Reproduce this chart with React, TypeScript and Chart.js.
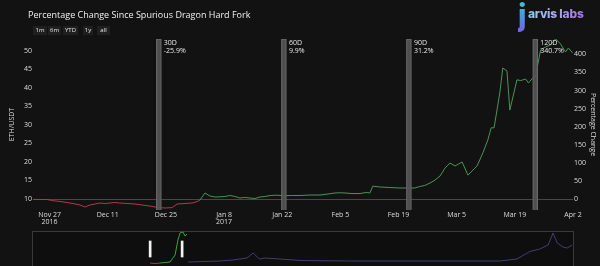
import React, { useEffect, useRef } from 'react';
import { Chart, registerables } from 'chart.js';
Chart.register(...registerables);

// ---------- data ----------
const BASE_PRICE = 9.82; // ETH/USDT at the Spurious Dragon fork (0 %)
// day offsets counted from Nov 27 2016
const days = [-4.0, -2.3, -0.6, 0.8, 2.5, 4.2, 5.6, 7.3, 8.5, 9.7, 10.9, 12.1, 13.3, 14.5, 15.7, 16.9, 18.6, 20.6, 22.2, 24.2, 26.1, 27.8, 29.5, 30.7, 32.6, 34.3, 35.5, 36.2, 37.4, 38.6, 39.8, 41.0, 42.2, 43.4, 44.6, 45.8, 47.0, 48.2, 49.4, 50.6, 51.9, 53.1, 54.7, 56.4, 58.3, 60.3, 62.7, 65.1, 67.0, 68.7, 69.9, 71.1, 72.8, 74.7, 76.2, 77.1, 77.8, 79.5, 81.9, 84.3, 86.5, 87.9, 89.1, 90.3, 91.6, 92.8, 94.0, 95.2, 96.4, 97.6, 99.3, 100.7, 101.7, 102.9, 104.3, 105.5, 106.3, 107.0, 107.7, 108.4, 109.1, 110.1, 110.8, 112.5, 113.4, 114.6, 115.3, 116.3, 117.0, 118.2, 119.4, 120.6, 121.8, 123.0, 124.2, 124.9, 125.9];
const prices = [9.80, 9.80, 9.78, 9.46, 9.25, 8.97, 8.70, 8.30, 7.75, 8.30, 8.56, 8.83, 8.70, 8.83, 8.97, 8.83, 8.70, 8.56, 8.30, 8.00, 7.60, 7.48, 7.60, 8.56, 8.70, 8.83, 9.24, 9.65, 11.55, 10.73, 10.46, 10.50, 10.60, 10.87, 10.60, 10.19, 10.33, 10.19, 10.05, 10.46, 10.60, 10.87, 10.95, 10.80, 10.87, 10.87, 11.00, 11.00, 11.27, 11.55, 11.60, 11.55, 11.40, 11.40, 11.68, 11.55, 13.40, 13.17, 13.03, 12.90, 12.88, 12.90, 13.30, 13.58, 14.25, 15.07, 16.15, 18.30, 19.67, 18.86, 19.95, 16.40, 17.50, 18.86, 22.40, 25.90, 29.20, 29.20, 34.00, 38.90, 45.40, 44.60, 34.00, 42.20, 42.00, 42.40, 41.35, 42.70, 43.28, 50.30, 51.10, 51.65, 53.30, 51.90, 49.75, 50.80, 49.50];

const tickDays = [0, 14, 28, 42, 56, 70, 84, 98, 112, 126];
const tickLabels: (string | string[])[] = [['Nov 27', '2016'], 'Dec 11', 'Dec 25', ['Jan 8', '2017'], 'Jan 22', 'Feb 5', 'Feb 19', 'Mar 5', 'Mar 19', 'Apr 2'];
const priceTicks = [10, 15, 20, 25, 30, 35, 40, 45, 50];
const pctTicks = [0, 50, 100, 150, 200, 250, 300, 350, 400];

const markerDays = [26.3, 56.4, 86.5, 116.9];
const markerNames = ['30D', '60D', '90D', '120D'];
const markerChanges = ['-25.9%', '9.9%', '31.2%', '340.7%'];

const X_MIN = -4;
const X_MAX = 126;
const PRICE_MIN = 6.94;
const PRICE_MAX = 53.25;

// range-slider preview (levels)
const miniRedDays = [24.2, 25.4, 26.6];
const miniRedLevels = [8, 7.5, 8];
const miniGreenDays = [26.6, 29.0, 30.2, 30.9, 31.4, 32.1, 32.6, 33.1];
const miniGreenLevels = [8, 9, 16, 31, 38, 39, 35, 37];
const miniPurpleDays = [33.3, 41.0, 44.1, 47.5, 49.0, 50.5, 51.9, 55.5, 60.3, 72.3, 84.3, 96.4, 108.4, 112.5, 115.6, 118.0, 120.0, 121.2, 122.2, 123.6, 124.6, 125.8];
const miniPurpleLevels = [9, 10, 11, 13, 18, 12, 13, 12, 10.5, 10, 10, 10, 10, 12, 19.5, 22, 26, 38, 28, 24, 23, 26];
const miniMarkerDays = [24.2, 31.9];
const MINI_MARKER_RANGE = [14, 30];

const rangeButtons = ['1m', '6m', 'YTD', '1y', 'all'];

// ---------- styles ----------
const BG = '#121212';
const RED = '#b23a48';
const GREEN = '#4a9459';
const FONT = '"Open Sans", "Noto Sans", sans-serif';

const toPct = (p: number) => (p / BASE_PRICE - 1) * 100;

const markerLabelPlugin = {
  id: 'markerLabels',
  afterDatasetsDraw(chart: any) {
    const { ctx, chartArea, scales } = chart;
    ctx.save();
    ctx.fillStyle = '#e6e6e6';
    ctx.font = `7px ${FONT}`;
    ctx.textBaseline = 'top';
    ctx.textAlign = 'left';
    markerDays.forEach((d, i) => {
      const x = scales.x.getPixelForValue(d) + 5;
      ctx.fillText(markerNames[i], x, chartArea.top + 0.5);
      ctx.fillText(markerChanges[i], x, chartArea.top + 8.5);
    });
    ctx.restore();
  },
};

export default function App() {
  const mainRef = useRef<HTMLCanvasElement>(null);
  const miniRef = useRef<HTMLCanvasElement>(null);

  useEffect(() => {
    const tickFont = { family: FONT, size: 7 };
    const main = new Chart(mainRef.current!, {
      type: 'line',
      data: {
        datasets: [
          {
            type: 'bar',
            data: markerDays.map((d) => ({ x: d, y: [PRICE_MIN, PRICE_MAX] })) as any,
            backgroundColor: 'rgba(85,85,85,0.92)',
            borderColor: '#6a6a6a',
            borderWidth: 1,
            barThickness: 5,
            grouped: false,
            yAxisID: 'y',
            order: 0,
          } as any,
          {
            type: 'line',
            data: days.map((d, i) => ({ x: d, y: prices[i] })),
            borderWidth: 1,
            pointRadius: 0,
            tension: 0,
            yAxisID: 'y',
            order: 1,
            segment: {
              borderColor: (ctx: any) =>
                (ctx.p0.parsed.y + ctx.p1.parsed.y) / 2 < BASE_PRICE ? RED : GREEN,
            },
          },
        ],
      },
      options: {
        animation: false,
        responsive: false,
        maintainAspectRatio: false,
        layout: { padding: { top: 39, left: 0, right: 0, bottom: 0 } },
        plugins: { legend: { display: false }, tooltip: { enabled: false }, title: { display: false } },
        scales: {
          x: {
            type: 'linear',
            min: X_MIN,
            max: X_MAX,
            offset: false,
            border: { display: false },
            grid: { display: false, drawTicks: false },
            afterBuildTicks: (axis: any) => {
              axis.ticks = tickDays.map((v) => ({ value: v }));
            },
            afterFit: (axis: any) => {
              axis.height = 20;
            },
            ticks: {
              color: '#dcdcdc',
              font: { ...tickFont, lineHeight: 1.05 },
              padding: 1,
              maxRotation: 0,
              autoSkip: false,
              callback: (v: any) => {
                const i = tickDays.indexOf(Number(v));
                return i >= 0 ? tickLabels[i] : '';
              },
            },
          },
          y: {
            type: 'linear',
            position: 'left',
            min: PRICE_MIN,
            max: PRICE_MAX,
            border: { display: false },
            grid: { display: false, drawTicks: false },
            afterBuildTicks: (axis: any) => {
              axis.ticks = priceTicks.map((v) => ({ value: v }));
            },
            afterFit: (axis: any) => {
              axis.width = 33;
            },
            ticks: { color: '#dcdcdc', font: tickFont, padding: 1 },
            title: {
              display: true,
              text: 'ETH/USDT',
              color: '#dcdcdc',
              font: { family: FONT, size: 7 },
              padding: { top: 8, bottom: 0 },
            },
          },
          pct: {
            type: 'linear',
            position: 'right',
            min: toPct(PRICE_MIN),
            max: toPct(PRICE_MAX),
            border: { display: false },
            grid: {
              drawTicks: false,
              lineWidth: 1,
              color: (c: any) => (c.tick && c.tick.value === 0 ? '#474747' : 'rgba(0,0,0,0)'),
            },
            afterBuildTicks: (axis: any) => {
              axis.ticks = pctTicks.map((v) => ({ value: v }));
            },
            afterFit: (axis: any) => {
              axis.width = 27;
            },
            ticks: { color: '#dcdcdc', font: tickFont, padding: 1 },
            title: {
              display: true,
              text: 'Percentage Change',
              color: '#dcdcdc',
              font: { family: FONT, size: 7 },
              padding: { top: 3, bottom: 0 },
            },
          },
        },
      } as any,
      plugins: [markerLabelPlugin],
    });

    const mini = new Chart(miniRef.current!, {
      type: 'line',
      data: {
        datasets: [
          {
            type: 'bar',
            data: miniMarkerDays.map((d) => ({ x: d, y: MINI_MARKER_RANGE })) as any,
            backgroundColor: '#f2f2f2',
            barThickness: 2,
            grouped: false,
            order: 0,
          } as any,
          {
            data: miniRedDays.map((d, i) => ({ x: d, y: miniRedLevels[i] })),
            borderColor: '#c0392b',
            borderWidth: 1,
            pointRadius: 0,
            order: 1,
          },
          {
            data: miniGreenDays.map((d, i) => ({ x: d, y: miniGreenLevels[i] })),
            borderColor: '#2fa83a',
            borderWidth: 1,
            pointRadius: 0,
            order: 1,
          },
          {
            data: miniPurpleDays.map((d, i) => ({ x: d, y: miniPurpleLevels[i] })),
            borderColor: '#413e74',
            borderWidth: 1,
            pointRadius: 0,
            order: 1,
          },
        ],
      },
      options: {
        animation: false,
        responsive: false,
        maintainAspectRatio: false,
        layout: { padding: { left: 33, right: 27, top: 0, bottom: 0 } },
        plugins: { legend: { display: false }, tooltip: { enabled: false } },
        scales: {
          x: { type: 'linear', display: false, min: X_MIN, max: X_MAX, offset: false },
          y: { type: 'linear', display: false, min: 0, max: 40 },
        },
      } as any,
    });

    return () => {
      main.destroy();
      mini.destroy();
    };
  }, []);

  const btnBoxes = [
    { left: 33, width: 14 },
    { left: 48, width: 13 },
    { left: 63, width: 15 },
    { left: 83, width: 10 },
    { left: 97, width: 13 },
  ];

  return (
    <div
      style={{
        position: 'absolute',
        left: 0,
        top: 0,
        width: 600,
        height: 266,
        overflow: 'hidden',
        background: BG,
        fontFamily: FONT,
      }}
    >
      <canvas ref={mainRef} width={600} height={230} style={{ position: 'absolute', left: 0, top: 0 }} />
      <div
        style={{
          position: 'absolute',
          left: 32,
          top: 231,
          width: 540,
          height: 40,
          border: '1px solid #3a3a3a',
          background: '#0e0e0e',
        }}
      />
      <canvas ref={miniRef} width={600} height={40} style={{ position: 'absolute', left: 0, top: 231 }} />
      <div
        style={{
          position: 'absolute',
          left: 28,
          top: 9,
          fontSize: 9,
          lineHeight: '12px',
          color: '#f0f0f0',
          whiteSpace: 'nowrap',
        }}
      >
        Percentage Change Since Spurious Dragon Hard Fork
      </div>
      {rangeButtons.map((b, i) => (
        <div
          key={b}
          style={{
            position: 'absolute',
            left: btnBoxes[i].left,
            top: 26,
            width: btnBoxes[i].width,
            height: 9,
            lineHeight: '9px',
            background: '#1f1f1f',
            color: '#e8e8e8',
            fontSize: 6,
            textAlign: 'center',
          }}
        >
          {b}
        </div>
      ))}
      <div style={{ position: 'absolute', left: 518, top: -3, fontFamily: 'Inter, sans-serif', fontWeight: 800 }}>
        <span
          style={{
            position: 'absolute',
            left: 0,
            top: 0,
            fontSize: 30,
            lineHeight: '36px',
            background: 'linear-gradient(180deg,#3fd0c8,#4f8ee0 60%,#7a5fe0)',
            WebkitBackgroundClip: 'text',
            backgroundClip: 'text',
            color: 'transparent',
          }}
        >
          j
        </span>
        <span
          style={{
            position: 'absolute',
            left: 10,
            top: 10,
            fontSize: 12,
            lineHeight: '14px',
            whiteSpace: 'nowrap',
            letterSpacing: -0.2,
            background: 'linear-gradient(90deg,#8fd0f0,#a9a8f0 50%,#a070e0)',
            WebkitBackgroundClip: 'text',
            backgroundClip: 'text',
            color: 'transparent',
          }}
        >
          arvis labs
        </span>
      </div>
    </div>
  );
}
